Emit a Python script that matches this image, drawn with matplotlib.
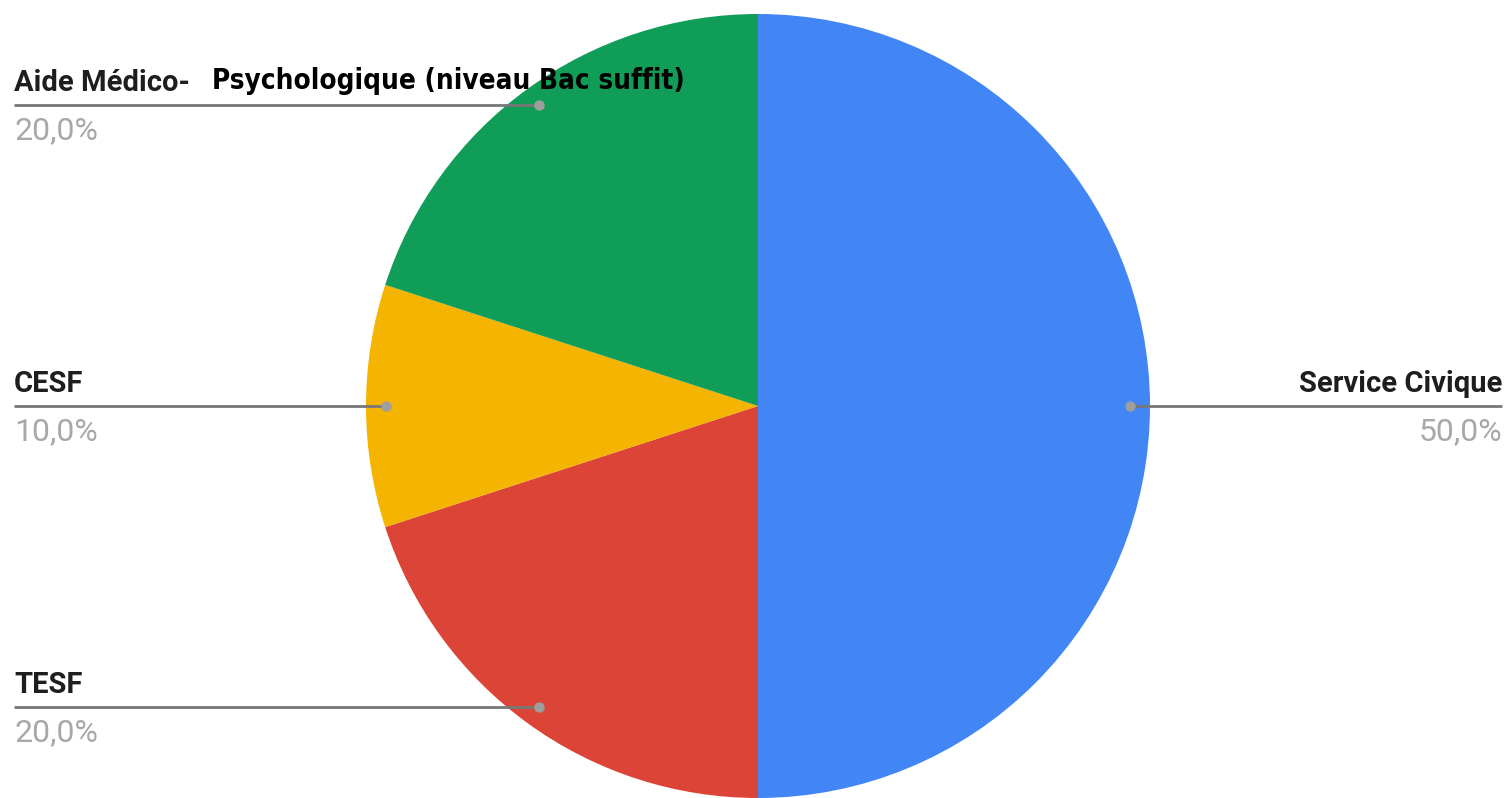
import numpy as np
import matplotlib
matplotlib.use('Agg')
import matplotlib.pyplot as plt

# data
labels = ['Service Civique', 'TESF', 'CESF', 'Aide Médico-']
values = [50, 20, 10, 20]
pct_labels = ['50,0%', '20,0%', '10,0%', '20,0%']
colors = ['#4285F4', '#DB4437', '#F4B400', '#0F9D58']
extra_text = 'Psychologique (niveau Bac suffit)'

W, H = 1505, 798
fig = plt.figure(figsize=(W / 100, H / 100), dpi=100)
ax = fig.add_axes([0, 0, 1, 1])

cx, cy, r = 758, 406, 392
# y axis is inverted below, so counterclock in data = clockwise on screen
wedges, _ = ax.pie(values, colors=colors, startangle=-90, counterclock=True,
                   center=(cx, cy), radius=r, wedgeprops=dict(linewidth=0))
ax.set_xlim(0, W)
ax.set_ylim(H, 0)
ax.axis('off')

for i, w in enumerate(wedges):
    mid = np.deg2rad((w.theta1 + w.theta2) / 2)
    px = cx + 0.95 * r * np.cos(mid)
    py = cy + 0.95 * r * np.sin(mid)
    if px > cx:
        x_end, ha = 1502, 'right'
    else:
        x_end, ha = 14, 'left'
    ax.plot([px, x_end], [py, py], color='#777777', lw=2, solid_capstyle='butt', zorder=3)
    ax.plot(px, py, 'o', color='#9e9e9e', ms=6.5, zorder=4)
    ax.text(x_end, py - 14, labels[i], ha=ha, va='baseline', fontsize=21,
            family='Roboto', fontweight='bold', color='#1e1e1e')
    ax.text(x_end, py + 34, pct_labels[i], ha=ha, va='baseline', fontsize=23,
            family='Roboto', color='#a8a8a8')
    if labels[i].startswith('Aide'):
        ax.text(212, py - 16, extra_text, ha='left', va='baseline', fontsize=20,
                family=['Liberation Sans Narrow', 'DejaVu Sans'], fontweight='bold',
                fontstretch='condensed', color='black')

fig.savefig('out.png', dpi=100, facecolor='white')
